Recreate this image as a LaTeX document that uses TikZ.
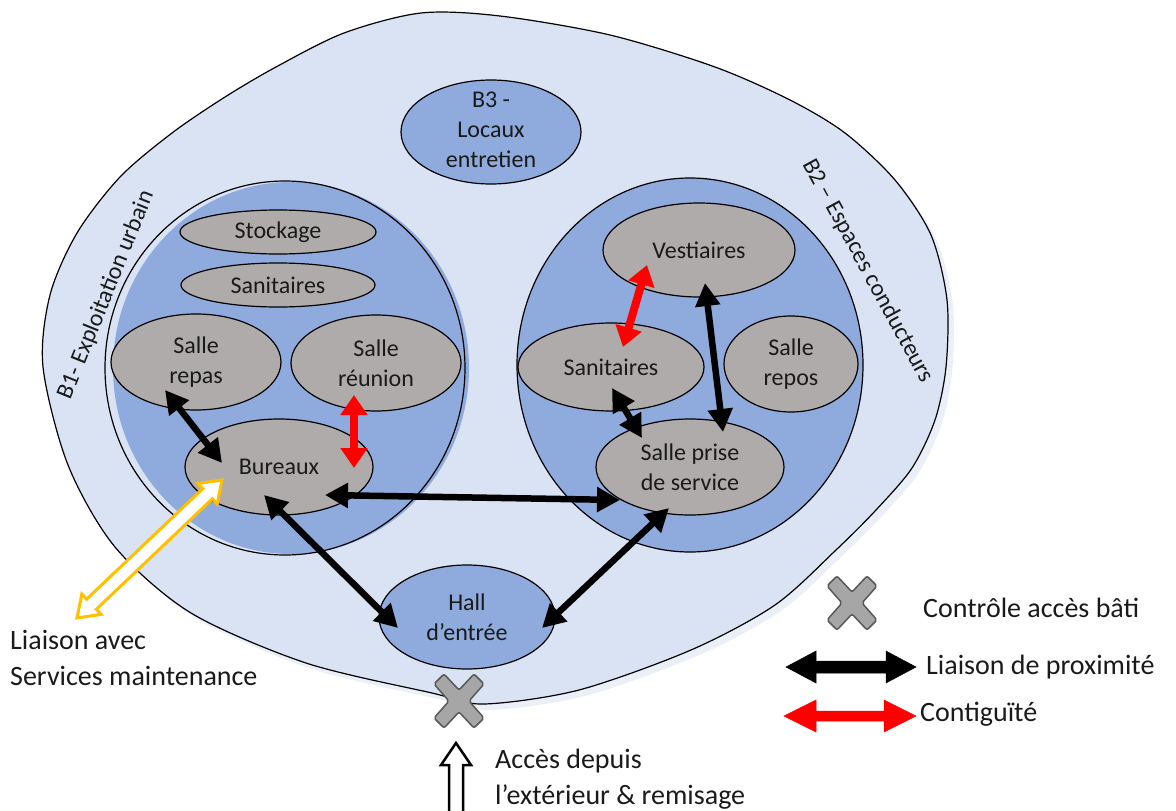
\documentclass[tikz,border=0pt]{standalone}
\usepackage{fontspec}
\setmainfont{Carlito}
\usetikzlibrary{shapes.geometric,arrows.meta,calc}
\definecolor{outerblue}{HTML}{DAE3F3}
\definecolor{midblue}{HTML}{8FAADC}
\definecolor{roomgray}{HTML}{AFABAB}
\definecolor{xgray}{HTML}{A6A6A6}
\definecolor{xedge}{HTML}{595959}
\definecolor{gold}{HTML}{FFC000}
\definecolor{cred}{HTML}{FF0000}
\definecolor{txt}{HTML}{1A1A1A}

% double block arrow: #1 tip A, #2 tip B, #3 head length, #4 head half width, #5 shaft half width, #6 style
\newcommand\blockdarrow[6]{%
  \path ($(#1)!#3!(#2)$) coordinate (ba1) ($(#2)!#3!(#1)$) coordinate (ba2);
  \draw[#6] (#1) -- ($(ba1)!#4!90:(#2)$) -- ($(ba1)!#5!90:(#2)$) -- ($(ba2)!#5!-90:(#1)$)
    -- ($(ba2)!#4!-90:(#1)$) -- (#2) -- ($(ba2)!#4!90:(#1)$) -- ($(ba2)!#5!90:(#1)$)
    -- ($(ba1)!#5!-90:(#2)$) -- ($(ba1)!#4!-90:(#2)$) -- cycle;}
% single block arrow: #1 tail, #2 tip
\newcommand\blocksarrow[6]{%
  \path ($(#2)!#3!(#1)$) coordinate (bs);
  \draw[#6] (#2) -- ($(bs)!#4!90:(#1)$) -- ($(bs)!#5!90:(#1)$) -- ($(#1)!#5!-90:(#2)$)
    -- ($(#1)!#5!90:(#2)$) -- ($(bs)!#5!-90:(#1)$) -- ($(bs)!#4!-90:(#1)$) -- cycle;}
% access-control cross centred on coordinate #1
\newcommand\ctrlcross[1]{%
  \draw[xmark] ($(#1)+(-25,-17)$) -- ($(#1)+(-15,-27)$) -- ($(#1)+(0,-11)$) -- ($(#1)+(15,-27)$)
    -- ($(#1)+(25,-17)$) -- ($(#1)+(10,0)$) -- ($(#1)+(25,17)$) -- ($(#1)+(15,27)$)
    -- ($(#1)+(0,11)$) -- ($(#1)+(-15,27)$) -- ($(#1)+(-25,17)$) -- ($(#1)+(-10,0)$) -- cycle;}

\tikzset{
  room/.style={ellipse, draw=black, line width=1.2pt, fill=roomgray, inner sep=0pt, align=center, text=txt},
  zone/.style={ellipse, draw=black, line width=1.2pt, fill=midblue, inner sep=0pt, align=center, text=txt},
  prox/.style={line width=6.5pt, draw=black, {Triangle[length=23pt,width=24pt]}-{Triangle[length=23pt,width=24pt]}},
  contig/.style={line width=8pt, draw=cred, {Triangle[length=20pt,width=26pt]}-{Triangle[length=20pt,width=26pt]}},
  xmark/.style={fill=xgray, draw=xedge, line width=1.5pt, rounded corners=2pt},
  legtext/.style={anchor=west, inner sep=0pt, font=\fontsize{28}{36}\selectfont, text=txt, align=left},
}

\begin{document}
\begin{tikzpicture}[x=1pt, y=-1pt, font=\fontsize{24}{30}\selectfont]
\useasboundingbox (0,0) rectangle (1176,811);

\def\sitepoints{(421,13) (500,16) (610,35) (715,67) (790,100) (845,133) (895,180) (931,235)
 (947,300) (946,367) (935,420) (912,468) (876,510) (836,550) (775,605) (691,650) (579,690)
 (484,704) (432,693) (306,663) (191,613) (115,547) (68,465) (43,367) (50,295) (77,233)
 (120,177) (172,133) (225,97) (276,67) (344,33)}

% soft shadow of the site
\fill[outerblue!55!white, shift={(6,6)}] plot[smooth cycle, tension=0.5] coordinates {\sitepoints};
% outer site
\draw[fill=outerblue, line width=1.2pt] plot[smooth cycle, tension=0.5] coordinates {\sitepoints};

% B1 and B2 zones
\fill[midblue] (291,368) ellipse [x radius=178pt, y radius=186pt];
\node[ellipse, draw=black, line width=1.2pt, minimum width=360pt, minimum height=374pt] (b1) at (285,368) {};
\node[zone, minimum width=346pt, minimum height=374pt] (b2) at (690,365) {};

% B3
\node[zone, minimum width=180pt, minimum height=104pt] (b3) at (491,132)
  {\smash{\raisebox{-6pt}{\begin{tabular}{@{}c@{}}B3 -\\Locaux\\entretien\end{tabular}}}};

% rooms B1
\node[room, minimum width=196pt, minimum height=44pt] (stock) at (278,232) {Stockage};
\node[room, minimum width=194pt, minimum height=44pt] (san1) at (278,285) {Sanitaires};
\node[room, minimum width=170pt, minimum height=96pt] (repas) at (196,362) {Salle\\repas};
\node[room, minimum width=170pt, minimum height=96pt] (reunion) at (376,363) {Salle\\réunion};
\node[room, minimum width=188pt, minimum height=96pt] (bur) at (279,467) {Bureaux};

% rooms B2
\node[room, minimum width=192pt, minimum height=94pt] (vest) at (699,250) {Vestiaires};
\node[room, minimum width=186pt, minimum height=88pt] (san2) at (611,367) {Sanitaires};
\node[room, minimum width=134pt, minimum height=96pt] (repos) at (791,364) {Salle\\repos};
\node[room, minimum width=188pt, minimum height=96pt] (prise) at (690,467) {Salle prise\\de service};

% hall
\node[zone, minimum width=176pt, minimum height=104pt] (hall) at (467,617) {Hall\\d'entrée};

% zone labels
\node[rotate=68, text=txt, inner sep=0pt] (lb1) at (106,295) {B1- Exploitation urbain};
\node[rotate=-61.5, text=txt, inner sep=0pt] (lb2) at (868,271) {B2 – Espaces conducteurs};

% proximity links
\draw[prox] ($(repas)+(-31,28)$) -- ($(bur)+(-57,-4)$);
\draw[prox] ($(bur)+(-15,28)$) -- ($(hall)+(-69,11)$);
\draw[prox] ($(bur)+(46,28)$) -- ($(prise)+(-70,33)$);
\draw[prox] ($(hall)+(75,11)$) -- ($(prise)+(-21,41)$);
\draw[prox] ($(san2)+(1,21)$) -- ($(prise)+(-48,-29)$);
\draw[prox] ($(vest)+(6,33)$) -- ($(prise)+(33,-35)$);

% contiguity
\draw[contig] ($(reunion)+(-22,32)$) -- ($(bur)+(75,1)$);
\draw[contig] ($(vest)+(-52,15)$) -- ($(san2)+(12,-20)$);

% maintenance link (hollow, gold)
\coordinate (ys) at ($(bur)+(-57,13)$);
\coordinate (ye) at (77,618);
\blockdarrow{ys}{ye}{20pt}{14pt}{7pt}{draw=gold, fill=white, line width=3pt, line join=miter}

% access control cross at entrance
\coordinate (xent) at (459,701);
\ctrlcross{xent}

% access arrow from outside
\coordinate (acctail) at (456,816);
\coordinate (acctip) at (456,743);
\blocksarrow{acctail}{acctip}{22pt}{15pt}{7pt}{draw=black, fill=white, line width=2.5pt}

\node[legtext] (acc) at (495,779) {Accès depuis\\l'extérieur \& remisage};
\node[legtext] (maint) at (10,658) {Liaison avec\\Services maintenance};

% legend
\coordinate (xleg) at (852,603);
\ctrlcross{xleg}
\node[legtext] (lx) at (923,608) {Contrôle accès bâti};

\coordinate (lpa) at (786,667);
\coordinate (lpb) at (916,667);
\blockdarrow{lpa}{lpb}{30pt}{16pt}{6pt}{fill=black, draw=black, line width=0.5pt}
\node[legtext] (lp) at (926,667) {Liaison de proximité};

\coordinate (lca) at (784,716);
\coordinate (lcb) at (916,716);
\blockdarrow{lca}{lcb}{32pt}{16pt}{5pt}{fill=cred, draw=cred, line width=0.5pt}
\node[legtext] (lc) at (920,714) {Contiguïté};
\end{tikzpicture}
\end{document}
